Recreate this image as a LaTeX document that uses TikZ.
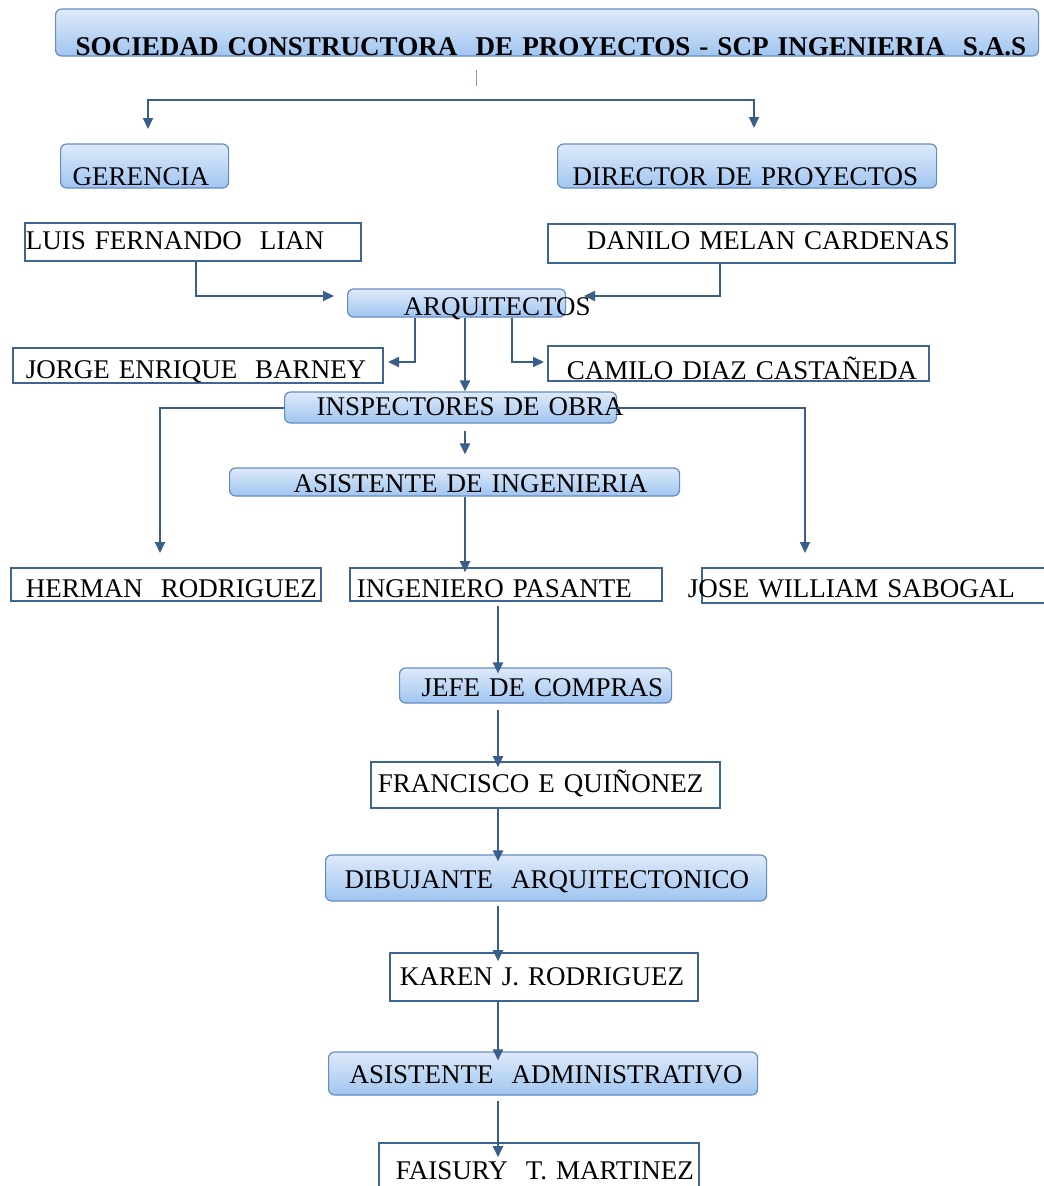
\documentclass[tikz,border=0pt]{standalone}
\usepackage{fontspec}
\setmainfont{Liberation Serif}
\usetikzlibrary{arrows.meta}

\definecolor{ctop}{RGB}{222,234,250}
\definecolor{cbot}{RGB}{160,197,240}
\definecolor{cborde}{RGB}{100,140,192}
\definecolor{cmarco}{RGB}{62,102,148}
\definecolor{clinea}{RGB}{58,94,138}
\tikzset{
  rotulo/.style={inner sep=0pt, align=left, anchor=base west, font=\fontsize{27}{30}\selectfont},
  cargo/.style={rotulo, draw=cborde, line width=1.2pt, rounded corners=6pt, top color=ctop, bottom color=cbot},
  nombre/.style={rotulo, draw=cmarco, line width=1.6pt, fill=white},
  caja/.style n args={3}{text width=#1, text height=#2, text depth=#3},
  conector/.style={draw=clinea, line width=2pt},
  flecha/.style={conector, -{Triangle[length=11pt,width=10pt]}},
}

\begin{document}
\begin{tikzpicture}[x=1pt,y=-1pt]
  \useasboundingbox (0,0) rectangle (1044,1186);
  \fill[white] (0,0) rectangle (1044,1186);
  % empresa y direccion
  \node[cargo, caja={983pt}{46pt}{1pt}, font=\bfseries\fontsize{27.1}{30}\selectfont] (tit) at (55,55)
    {\rlap{\hspace*{20pt}SOCIEDAD CONSTRUCTORA~ DE PROYECTOS - SCP INGENIERIA~ S.A.S}};
  \node[cargo, caja={168pt}{41pt}{3pt}] (ger) at (60,185) {\rlap{\hspace*{12pt}GERENCIA}};
  \node[cargo, caja={379pt}{41pt}{3pt}] (dir) at (557,185) {\rlap{\hspace*{15pt}DIRECTOR DE PROYECTOS}};
  \node[nombre, caja={336pt}{26pt}{12pt}] (luis) at (24,249) {\rlap{\hspace*{1pt}LUIS FERNANDO~ LIAN}};
  \node[nombre, caja={407pt}{25pt}{14pt}] (dan) at (547,249) {\rlap{\hspace*{39pt}DANILO MELAN CARDENAS}};
  % arquitectos
  \node[cargo, caja={218pt}{26pt}{2pt}] (arq) at (347,315) {\rlap{\hspace*{56pt}ARQUITECTOS}};
  \node[nombre, caja={370pt}{30pt}{5pt}] (jor) at (12,378) {\rlap{\hspace*{13pt}JORGE ENRIQUE~ BARNEY}};
  \node[nombre, caja={381pt}{33pt}{2pt}] (cam) at (547,379) {\rlap{\hspace*{19pt}CAMILO DIAZ CASTAÑEDA}};
  % obra
  \node[cargo, caja={332pt}{23pt}{8pt}] (ins) at (284,415) {\rlap{\hspace*{32pt}INSPECTORES DE OBRA}};
  \node[cargo, caja={450pt}{24pt}{4pt}] (asi) at (229,492) {\rlap{\hspace*{64pt}ASISTENTE DE INGENIERIA}};
  \node[nombre, caja={310pt}{29pt}{4pt}] (her) at (10,597) {\rlap{\hspace*{15pt}HERMAN~ RODRIGUEZ}};
  \node[nombre, caja={312pt}{29pt}{4pt}] (ing) at (349,597) {\rlap{\hspace*{7pt}INGENIERO PASANTE}};
  \node[nombre, caja={349pt}{29pt}{6pt}] (jos) at (701,597) {\rlap{\hspace*{-14pt}JOSE WILLIAM SABOGAL}};
  % cadena inferior
  \node[cargo, caja={272pt}{28pt}{7pt}] (jef) at (399,696) {\rlap{\hspace*{22pt}JEFE DE COMPRAS}};
  \node[nombre, caja={349pt}{30pt}{16pt}] (fra) at (370,792) {\rlap{\hspace*{7pt}FRANCISCO E QUIÑONEZ}};
  \node[cargo, caja={441pt}{33pt}{13pt}] (dib) at (325,888) {\rlap{\hspace*{19pt}DIBUJANTE~ ARQUITECTONICO}};
  \node[nombre, caja={308pt}{32pt}{16pt}] (kar) at (389,985) {\rlap{\hspace*{10pt}KAREN J. RODRIGUEZ}};
  \node[cargo, caja={429pt}{31pt}{12pt}] (adm) at (328,1083) {\rlap{\hspace*{21pt}ASISTENTE~ ADMINISTRATIVO}};
  \node[nombre, caja={320pt}{36pt}{16pt}] (fai) at (378,1179) {\rlap{\hspace*{17pt}FAISURY~ T. MARTINEZ}};

  \coordinate (g1) at (148,129);
  \coordinate (d1) at (754,128);
  \coordinate (ejeL) at (196,0);
  \coordinate (ejeD) at (720,0);
  \coordinate (ejeJ) at (415,0);
  \coordinate (ejeA) at (465,0);
  \coordinate (ejeC) at (512,0);
  \coordinate (ejeB) at (498,0);
  \coordinate (a1) at (334,296);
  \coordinate (a2) at (584,296);
  \coordinate (a3) at (388,362);
  \coordinate (a4) at (544,362);
  \coordinate (h1) at (160,553);
  \coordinate (j1) at (805,553);

  \draw[conector, draw=clinea!60, line width=1pt] (476,70) -- (476,86);
  \draw[conector, {Triangle[length=11pt,width=10pt]}-{Triangle[length=11pt,width=10pt]}] (g1) -- ++(0,-29) -| (d1);
  \draw[flecha] (ejeL |- luis.south) |- (a1);
  \draw[flecha] (ejeD |- dan.south) |- (a2);
  \draw[flecha] (ejeJ |- arq.south) |- (a3);
  \draw[flecha] (ejeC |- arq.south) |- (a4);
  \draw[flecha] (ejeA |- arq.south) -- (ejeA |- ins.north);
  \draw[flecha] (ins.west) -| (h1);
  \draw[flecha] (ins.east) -| (j1);
  \draw[flecha, shorten <=7pt, shorten >=13pt] (ejeA |- ins.south) -- (ejeA |- asi.north);
  \draw[flecha, shorten >=-5pt] (ejeA |- asi.south) -- (ejeA |- ing.north);
  \draw[flecha, shorten <=4pt, shorten >=-6pt] (ejeB |- ing.south) -- (ejeB |- jef.north);
  \draw[flecha, shorten <=6pt, shorten >=-6pt] (ejeB |- jef.south) -- (ejeB |- fra.north);
  \draw[flecha, shorten >=-7pt] (ejeB |- fra.south) -- (ejeB |- dib.north);
  \draw[flecha, shorten <=4pt, shorten >=-9pt] (ejeB |- dib.south) -- (ejeB |- kar.north);
  \draw[flecha, shorten >=-9pt] (ejeB |- kar.south) -- (ejeB |- adm.north);
  \draw[flecha, shorten <=5pt, shorten >=-15pt] (ejeB |- adm.south) -- (ejeB |- fai.north);
\end{tikzpicture}
\end{document}
